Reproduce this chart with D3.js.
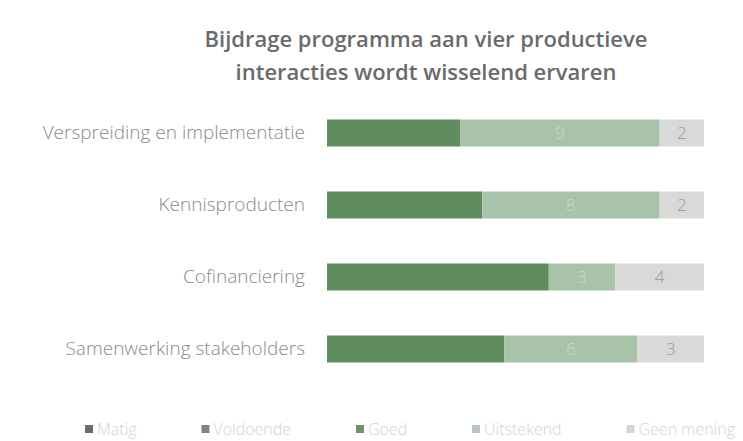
<!DOCTYPE html>
<html>
<head>
<meta charset="utf-8">
<script src="https://cdn.jsdelivr.net/npm/d3@7"></script>
<style>
  html, body { margin: 0; padding: 0; background: #fff; }
  svg { display: block; font-family: "Open Sans", sans-serif; }
</style>
</head>
<body>
<svg id="chart" width="743" height="441"></svg>
<script>
const titleLines = ["Bijdrage programma aan vier productieve", "interacties wordt wisselend ervaren"];
const categories = ["Verspreiding en implementatie", "Kennisproducten", "Cofinanciering", "Samenwerking stakeholders"];
const seriesNames = ["Matig", "Voldoende", "Goed", "Uitstekend", "Geen mening"];
const matig = [0, 0, 0, 0];
const voldoende = [0, 0, 0, 0];
const goed = [6, 7, 10, 8];
const uitstekend = [9, 8, 3, 6];
const geenMening = [2, 2, 4, 3];
const seriesColors = ["#646b64", "#758a76", "#5f8d5e", "#a9c3aa", "#d7dad7"];
const legendColors = ["#676d67", "#7a8b7b", "#6f9070", "#b7c6b7", "#d3d6d3"];
const labelColors = [null, null, null, "#cbd8cb", "#9a9d9a"];

const svg = d3.select("#chart");

// Title
svg.append("g").selectAll("text").data(titleLines).join("text")
  .attr("x", 426).attr("y", (d, i) => 47 + i * 33)
  .attr("text-anchor", "middle")
  .attr("font-size", 22).attr("font-weight", 600)
  .attr("fill", "#6a6a6a")
  .text(d => d);

const rows = categories.map((c, i) => ({
  cat: c, Matig: matig[i], Voldoende: voldoende[i], Goed: goed[i],
  Uitstekend: uitstekend[i], "Geen mening": geenMening[i]
}));
const total = d3.max(rows, r => seriesNames.reduce((s, k) => s + r[k], 0));

const x = d3.scaleLinear().domain([0, total]).range([327, 704]);
const y = d3.scaleBand().domain(categories).range([97, 385]).paddingInner(0.625).paddingOuter(0.3125);

const stack = d3.stack().keys(seriesNames)(rows);

const layers = svg.append("g").selectAll("g").data(stack).join("g")
  .attr("fill", (d, i) => seriesColors[i]);
layers.selectAll("rect").data(d => d).join("rect")
  .attr("x", d => x(d[0]))
  .attr("y", d => y(d.data.cat))
  .attr("width", d => x(d[1]) - x(d[0]))
  .attr("height", y.bandwidth());

// value labels
stack.forEach((layer, i) => {
  if (!labelColors[i]) return;
  svg.append("g").selectAll("text").data(layer.filter(d => d[1] - d[0] > 0)).join("text")
    .attr("x", d => (x(d[0]) + x(d[1])) / 2)
    .attr("y", d => y(d.data.cat) + y.bandwidth() / 2)
    .attr("dy", "0.36em")
    .attr("text-anchor", "middle")
    .attr("font-size", 17).attr("font-weight", 300)
    .attr("fill", labelColors[i])
    .text(d => d[1] - d[0]);
});

// Category axis
const yAxis = svg.append("g").attr("transform", "translate(311,0)")
  .call(d3.axisLeft(y).tickSize(0).tickPadding(6));
yAxis.select(".domain").remove();
yAxis.selectAll("text")
  .attr("font-family", "Open Sans, sans-serif")
  .attr("font-size", 19).attr("font-weight", 300)
  .attr("fill", "#8a8a8a");

// Legend spread between 85 and 735
const legend = svg.append("g").attr("transform", "translate(0,429)");
const items = seriesNames.map((name, i) => {
  const g = legend.append("g");
  g.append("rect").attr("x", 0).attr("y", -4).attr("width", 8).attr("height", 8).attr("fill", legendColors[i]);
  const t = g.append("text").attr("x", 12).attr("dy", "0.36em")
    .attr("font-size", 16).attr("font-weight", 300).attr("fill", "#d2d2d2").text(name);
  return { g, w: 12 + t.node().getComputedTextLength() };
});
const sumW = d3.sum(items, d => d.w);
const gap = (735 - 85 - sumW) / (items.length - 1);
let lx = 85;
items.forEach(it => { it.g.attr("transform", `translate(${lx},0)`); lx += it.w + gap; });
</script>
</body>
</html>
